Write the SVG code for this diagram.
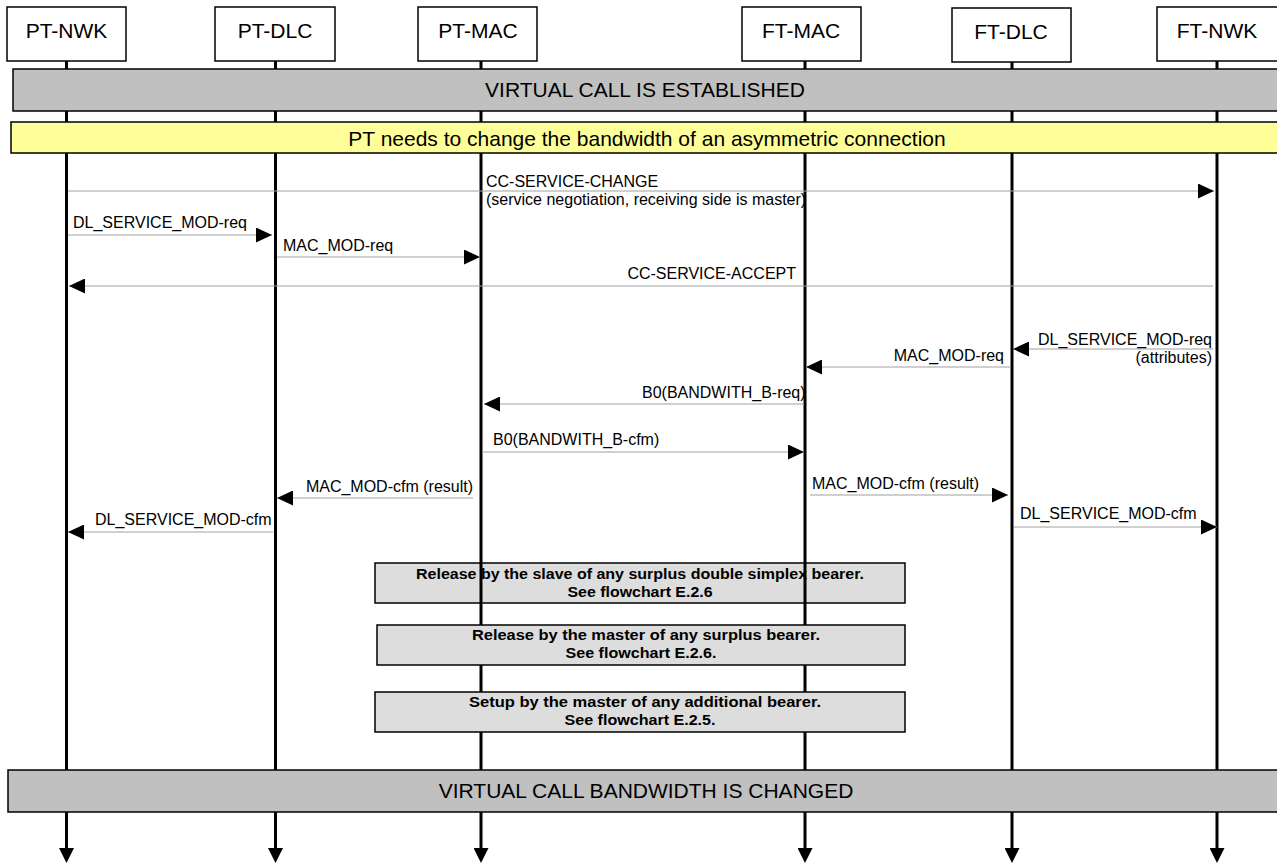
<svg xmlns="http://www.w3.org/2000/svg" width="1277" height="864" viewBox="0 0 1277 864">
<style>
.hdr{fill:#fff;stroke:#000;stroke-width:1.5}
.ht{font-family:"Liberation Sans",Arial,sans-serif;font-size:21px;fill:#000;text-anchor:middle}
.life{stroke:#000;stroke-width:3;fill:none}
.bar{fill:#c0c0c0;stroke:#000;stroke-width:1.5}
.ybar{fill:#ffff99;stroke:#000;stroke-width:1.5}
.bt{font-family:"Liberation Sans",Arial,sans-serif;font-size:21px;fill:#000;text-anchor:middle}
.msg{stroke:#a0a0a0;stroke-width:1;fill:none}
.lbl{font-family:"Liberation Sans",Arial,sans-serif;font-size:16px;fill:#000}
.end{text-anchor:end}
.proc{fill:#dddddd;stroke:#000;stroke-width:1.5}
.pt{font-family:"Liberation Sans",Arial,sans-serif;font-size:14px;font-weight:bold;fill:#000;text-anchor:middle}
</style>
<defs>
<marker id="ah" markerUnits="userSpaceOnUse" markerWidth="16" markerHeight="15" refX="16" refY="7.5" orient="auto">
<path d="M0,0 L16,7.5 L0,15 Z" fill="#000"/>
</marker>
<marker id="lh" markerUnits="userSpaceOnUse" markerWidth="15" markerHeight="15" refX="0" refY="7.5" orient="auto">
<path d="M0,0 L15,7.5 L0,15 Z" fill="#000"/>
</marker>
</defs>

<g id="proc1">
<rect class="proc" x="375" y="563" width="530" height="40"/>
<text class="pt" x="640" y="579" textLength="448" lengthAdjust="spacingAndGlyphs">Release by the slave of any surplus double simplex bearer.</text>
<text class="pt" x="640" y="597" textLength="145" lengthAdjust="spacingAndGlyphs">See flowchart E.2.6</text>
</g>

<g id="lifelines">
<line class="life" x1="66.5" y1="61" x2="66.5" y2="848" marker-end="url(#lh)"/>
<line class="life" x1="275.5" y1="61" x2="275.5" y2="848" marker-end="url(#lh)"/>
<line class="life" x1="481" y1="61" x2="481" y2="848" marker-end="url(#lh)"/>
<line class="life" x1="805" y1="61" x2="805" y2="848" marker-end="url(#lh)"/>
<line class="life" x1="1012" y1="62" x2="1012" y2="848" marker-end="url(#lh)"/>
<line class="life" x1="1217" y1="61" x2="1217" y2="848" marker-end="url(#lh)"/>
</g>

<g id="pt-nwk"><rect class="hdr" x="7" y="7" width="119" height="54"/><text class="ht" x="66.5" y="38">PT-NWK</text></g>
<g id="pt-dlc"><rect class="hdr" x="215" y="7" width="120" height="54"/><text class="ht" x="275" y="38">PT-DLC</text></g>
<g id="pt-mac"><rect class="hdr" x="418" y="7" width="119" height="54"/><text class="ht" x="478" y="38">PT-MAC</text></g>
<g id="ft-mac"><rect class="hdr" x="742" y="7" width="119" height="54"/><text class="ht" x="801" y="38">FT-MAC</text></g>
<g id="ft-dlc"><rect class="hdr" x="952" y="8" width="119" height="54"/><text class="ht" x="1011" y="39">FT-DLC</text></g>
<g id="ft-nwk"><rect class="hdr" x="1157" y="7" width="125" height="54"/><text class="ht" x="1217" y="38">FT-NWK</text></g>

<g id="bar-established">
<rect class="bar" x="13" y="69" width="1270" height="42"/>
<text class="bt" x="645" y="97">VIRTUAL CALL IS ESTABLISHED</text>
</g>
<g id="bar-need">
<rect class="ybar" x="11" y="122" width="1272" height="31"/>
<text class="bt" x="647" y="146">PT needs to change the bandwidth of an asymmetric connection</text>
</g>

<g id="connectors">
<line class="msg" x1="68" y1="191" x2="1214" y2="191" marker-end="url(#ah)"/>
<line class="msg" x1="68" y1="235" x2="272" y2="235" marker-end="url(#ah)"/>
<line class="msg" x1="277" y1="257" x2="480" y2="257" marker-end="url(#ah)"/>
<line class="msg" x1="1213" y1="286" x2="69" y2="286" marker-end="url(#ah)"/>
<line class="msg" x1="1213" y1="349" x2="1013" y2="349" marker-end="url(#ah)"/>
<line class="msg" x1="1011" y1="367" x2="806" y2="367" marker-end="url(#ah)"/>
<line class="msg" x1="804" y1="404" x2="484" y2="404" marker-end="url(#ah)"/>
<line class="msg" x1="482" y1="452" x2="804" y2="452" marker-end="url(#ah)"/>
<line class="msg" x1="473" y1="498" x2="277" y2="498" marker-end="url(#ah)"/>
<line class="msg" x1="273" y1="532" x2="68" y2="532" marker-end="url(#ah)"/>
<line class="msg" x1="810" y1="495" x2="1008" y2="495" marker-end="url(#ah)"/>
<line class="msg" x1="1014" y1="527" x2="1217" y2="527" marker-end="url(#ah)"/>
</g>

<g id="labels">
<text class="lbl" x="486" y="187">CC-SERVICE-CHANGE</text>
<text class="lbl" x="486" y="205">(service negotiation, receiving side is master)</text>
<text class="lbl" x="73" y="228">DL_SERVICE_MOD-req</text>
<text class="lbl" x="283" y="251">MAC_MOD-req</text>
<text class="lbl end" x="796" y="279">CC-SERVICE-ACCEPT</text>
<text class="lbl end" x="1212" y="345">DL_SERVICE_MOD-req</text>
<text class="lbl end" x="1212" y="363">(attributes)</text>
<text class="lbl end" x="1004" y="361">MAC_MOD-req</text>
<text class="lbl" x="642" y="398">B0(BANDWITH_B-req)</text>
<text class="lbl" x="493" y="445">B0(BANDWITH_B-cfm)</text>
<text class="lbl end" x="473" y="492">MAC_MOD-cfm (result)</text>
<text class="lbl" x="95" y="525">DL_SERVICE_MOD-cfm</text>
<text class="lbl" x="812" y="489">MAC_MOD-cfm (result)</text>
<text class="lbl" x="1020" y="519">DL_SERVICE_MOD-cfm</text>
</g>

<g id="proc2">
<rect class="proc" x="377" y="625" width="528" height="40"/>
<text class="pt" x="646" y="640" textLength="348" lengthAdjust="spacingAndGlyphs">Release by the master of any surplus bearer.</text>
<text class="pt" x="641" y="658" textLength="151" lengthAdjust="spacingAndGlyphs">See flowchart E.2.6.</text>
</g>
<g id="proc3">
<rect class="proc" x="375" y="692" width="530" height="40"/>
<text class="pt" x="645" y="707" textLength="352" lengthAdjust="spacingAndGlyphs">Setup by the master of any additional bearer.</text>
<text class="pt" x="640" y="725" textLength="151" lengthAdjust="spacingAndGlyphs">See flowchart E.2.5.</text>
</g>

<g id="bar-changed">
<rect class="bar" x="8" y="770" width="1275" height="42"/>
<text class="bt" x="646" y="798">VIRTUAL CALL BANDWIDTH IS CHANGED</text>
</g>
</svg>
